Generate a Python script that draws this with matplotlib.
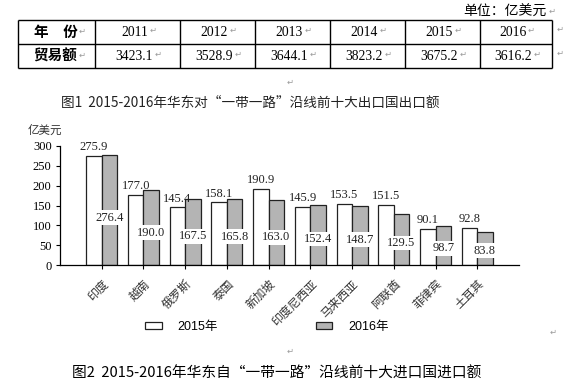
import matplotlib
matplotlib.use('Agg')
import matplotlib.pyplot as plt
from matplotlib.patches import Patch
import numpy as np

# 表格数据
years = ['2011', '2012', '2013', '2014', '2015', '2016']
trade = [3423.1, 3528.9, 3644.1, 3823.2, 3675.2, 3616.2]

# 图1 数据
countries = ['印度', '越南', '俄罗斯', '泰国', '新加坡', '印度尼西亚', '马来西亚', '阿联酋', '菲律宾', '土耳其']
exp_2015 = [275.9, 177.0, 145.4, 158.1, 190.9, 145.9, 153.5, 151.5, 90.1, 92.8]
exp_2016 = [276.4, 190.0, 167.5, 165.8, 163.0, 152.4, 148.7, 129.5, 98.7, 83.8]
y_ticks = [0, 50, 100, 150, 200, 250, 300]

title1 = '图1  2015-2016年华东对“一带一路”沿线前十大出口国出口额'
title2 = '图2  2015-2016年华东自“一带一路”沿线前十大进口国进口额'

SERIF = ['Liberation Serif', 'Noto Sans CJK SC', 'DejaVu Sans']
CJK = ['Noto Sans CJK SC', 'DejaVu Sans']
SANS = ['Liberation Sans', 'Noto Sans CJK SC', 'DejaVu Sans']
MARK = '↵'
MARK_COLOR = '#9a9a9a'

plt.rcParams['font.family'] = SERIF

W, H = 573, 388
fig = plt.figure(figsize=(W / 100, H / 100), dpi=100)

# 整页画布（像素坐标），用于表格和文字
page = fig.add_axes([0, 0, 1, 1])
page.set_xlim(0, W)
page.set_ylim(H, 0)
page.axis('off')


def para_mark(t):
    # 段落标记
    page.annotate(MARK, xy=(1, 0.25), xycoords=t, xytext=(1, 0), textcoords='offset points',
                  fontsize=6, color=MARK_COLOR, family=['DejaVu Sans'], va='bottom', ha='left')


# 单位
t = page.text(547, 12, '单位：亿美元', ha='right', va='center', fontsize=10, family=CJK)
para_mark(t)

# 表格
col_edges = [18, 95, 180, 255, 330, 405, 480, 552]
row_edges = [20, 44, 68]
page.hlines(row_edges, col_edges[0], col_edges[-1], color='black', lw=1)
page.vlines(col_edges, row_edges[0], row_edges[-1], color='black', lw=1)

row_y = [(row_edges[0] + row_edges[1]) / 2, (row_edges[1] + row_edges[2]) / 2]
cx0 = (col_edges[0] + col_edges[1]) / 2
t = page.text(cx0 - 1, row_y[0], '年\u3000份', ha='center', va='center', fontsize=10.5,
              fontweight='bold', family=CJK)
para_mark(t)
t = page.text(cx0 - 1, row_y[1], '贸易额', ha='center', va='center', fontsize=10.5,
              fontweight='bold', family=CJK)
para_mark(t)
for i, (yr, v) in enumerate(zip(years, trade)):
    cx = (col_edges[i + 1] + col_edges[i + 2]) / 2 - 3
    t = page.text(cx, row_y[0], yr, ha='center', va='center', fontsize=9.8)
    para_mark(t)
    t = page.text(cx, row_y[1], f'{v:.1f}', ha='center', va='center', fontsize=9.8)
    para_mark(t)
for ry in row_y:
    page.text(557, ry - 3, MARK, fontsize=6, color=MARK_COLOR, family=['DejaVu Sans'], va='center')

page.text(287, 82, MARK, fontsize=6, color=MARK_COLOR, family=['DejaVu Sans'], va='center')
page.text(550, 332, MARK, fontsize=6, color=MARK_COLOR, family=['DejaVu Sans'], va='center')
page.text(287, 351, MARK, fontsize=6, color=MARK_COLOR, family=['DejaVu Sans'], va='center')

# 标题
page.text(250, 103, title1, ha='center', va='center', fontsize=9.8, family=CJK, color='#222222')
page.text(277, 374, title2, ha='center', va='center', fontsize=10.6, family=CJK, color='black')
page.text(45, 130, '亿美元', ha='center', va='center', fontsize=8.3, family=CJK, color='#333333')

# 柱状图
ax = fig.add_axes([60 / W, 1 - 265 / H, 459 / W, 119 / H])
x = np.arange(len(countries))
w = 0.37
b1 = ax.bar(x - w / 2, exp_2015, w, color='white', edgecolor='#222222', lw=0.9, zorder=2)
b2 = ax.bar(x + w / 2, exp_2016, w, color='#b4b4b4', edgecolor='#222222', lw=0.9, zorder=2)

ax.bar_label(b1, fmt='%.1f', padding=2, fontsize=9, color='#222222')
for xi, v in zip(x, exp_2016):
    ax.text(xi + w / 2, v * 0.43, f'{v:.1f}', ha='center', va='center', fontsize=9,
            color='#222222', zorder=5,
            bbox=dict(facecolor='white', edgecolor='none', pad=1.0))

ax.set_xlim(-1, 10)
ax.set_ylim(0, 300)
ax.set_yticks(y_ticks)
ax.tick_params(axis='y', direction='out', length=3, width=0.8, labelsize=9, pad=3)
ax.set_xticks(x)
ax.set_xticklabels(countries, rotation=45, ha='right', va='top', rotation_mode='anchor',
                   fontsize=8.5, family=CJK, color='#333333')
ax.tick_params(axis='x', direction='out', length=3, width=0.8, pad=6)
for s in ['top', 'right']:
    ax.spines[s].set_visible(False)
for s in ['left', 'bottom']:
    ax.spines[s].set_linewidth(0.9)
ax.patch.set_alpha(0)

# 图例
handles = [Patch(facecolor='white', edgecolor='#222222', lw=0.9),
           Patch(facecolor='#b4b4b4', edgecolor='#222222', lw=0.9)]
fig.legend(handles, ['2015年', '2016年'], loc='center', bbox_to_anchor=(267 / W, 1 - 327 / H),
           ncol=2, frameon=False, prop={'family': SANS, 'size': 9},
           handlelength=1.3, handleheight=0.45, handletextpad=1.3, columnspacing=7.8)

fig.savefig('out.png', dpi=100)
